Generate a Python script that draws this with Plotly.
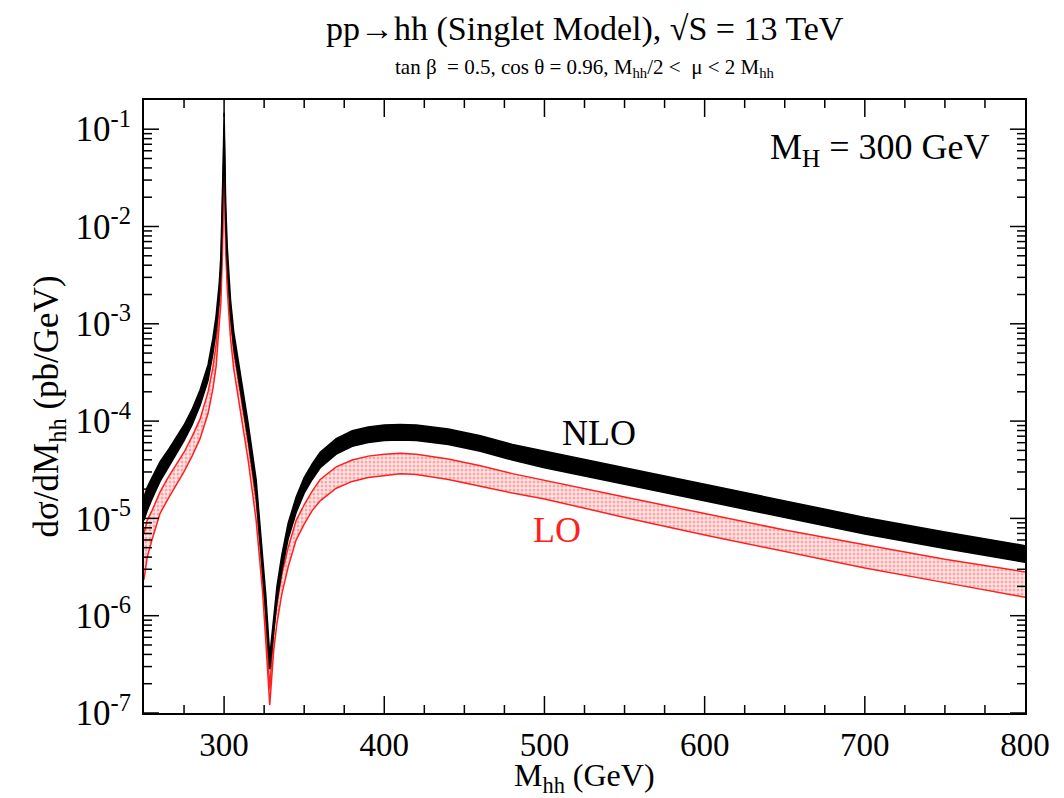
import math
import plotly.graph_objects as go

# M_hh values (GeV)
m_hh = [250, 252, 255, 260, 265, 270, 275, 280, 285, 290, 293, 295, 297, 298, 299, 299.5,
        300, 300.5, 301, 302, 304, 306, 310, 315, 320, 324, 326, 328.5, 331, 333, 336, 340,
        345, 350, 355, 360, 370, 380, 390, 400, 410, 420, 440, 460, 480, 500, 550, 600,
        650, 700, 750, 800]

# log10 of dsigma/dM (pb/GeV), band edges
nlo_hi_log = [-4.78, -4.68, -4.58, -4.42, -4.30, -4.17, -4.04, -3.88, -3.68, -3.42, -3.15, -2.92,
              -2.58, -2.30, -1.78, -1.30, -0.83, -1.30, -1.78, -2.22, -2.75, -3.08, -3.50, -4.02,
              -4.60, -5.35, -5.78, -6.42, -5.98, -5.70, -5.38, -5.05, -4.78, -4.58, -4.44, -4.32,
              -4.18, -4.10, -4.06, -4.04, -4.035, -4.04, -4.08, -4.15, -4.24, -4.31, -4.48, -4.65,
              -4.82, -4.99, -5.14, -5.28]
nlo_lo_log = [-5.02, -4.92, -4.80, -4.62, -4.48, -4.34, -4.20, -4.04, -3.84, -3.58, -3.31, -3.08,
              -2.74, -2.46, -1.94, -1.45, -0.98, -1.45, -1.94, -2.38, -2.91, -3.24, -3.66, -4.18,
              -4.76, -5.51, -5.95, -6.55, -6.12, -5.85, -5.54, -5.21, -4.94, -4.74, -4.60, -4.48,
              -4.34, -4.26, -4.22, -4.20, -4.195, -4.20, -4.24, -4.31, -4.40, -4.48, -4.65, -4.82,
              -4.99, -5.16, -5.31, -5.45]
lo_hi_log = [-5.15, -5.02, -4.92, -4.73, -4.58, -4.45, -4.32, -4.16, -3.98, -3.70, -3.45, -3.22,
             -2.85, -2.58, -2.05, -1.60, -1.15, -1.60, -2.05, -2.45, -2.95, -3.28, -3.70, -4.22,
             -4.82, -5.55, -6.05, -6.75, -6.15, -5.88, -5.58, -5.30, -5.02, -4.86, -4.72, -4.60,
             -4.47, -4.40, -4.36, -4.34, -4.33, -4.34, -4.39, -4.46, -4.54, -4.61, -4.78, -4.95,
             -5.12, -5.27, -5.42, -5.55]
lo_lo_log = [-5.63, -5.40, -5.22, -4.95, -4.80, -4.66, -4.52, -4.36, -4.18, -3.92, -3.67, -3.44,
             -3.05, -2.78, -2.25, -1.78, -1.30, -1.78, -2.25, -2.65, -3.15, -3.46, -3.88, -4.40,
             -5.02, -5.75, -6.25, -6.92, -6.35, -6.08, -5.78, -5.50, -5.22, -5.06, -4.92, -4.82,
             -4.69, -4.62, -4.58, -4.56, -4.54, -4.55, -4.60, -4.67, -4.74, -4.80, -4.99, -5.17,
             -5.34, -5.51, -5.66, -5.81]

y_tick_exps = [-7, -6, -5, -4, -3, -2, -1]
x_tick_vals = [300, 400, 500, 600, 700, 800]
x_range = [250, 800]
y_range_log = [-7, -0.70]

nlo_hi = [10 ** v for v in nlo_hi_log]
nlo_lo = [10 ** v for v in nlo_lo_log]
lo_hi = [10 ** v for v in lo_hi_log]
lo_lo = [10 ** v for v in lo_lo_log]

FONT = "Liberation Serif"
RED = "#ff2020"
PLOT_W = 1064 - 144 - 39
PLOT_H = 798 - 100 - 85

fig = go.Figure()
# LO band (red, dotted fill)
fig.add_trace(go.Scatter(x=m_hh, y=lo_lo, mode="lines", line=dict(color=RED, width=1.5),
                         showlegend=False, hoverinfo="skip"))
fig.add_trace(go.Scatter(x=m_hh, y=lo_hi, mode="lines", line=dict(color=RED, width=1.5),
                         fill="tonexty",
                         fillpattern=dict(shape=".", fgcolor="#ff6060", bgcolor="#ffe8e8",
                                          size=4, solidity=0.45),
                         showlegend=False, hoverinfo="skip"))
# NLO band (black)
fig.add_trace(go.Scatter(x=m_hh, y=nlo_lo, mode="lines", line=dict(color="black", width=1.5),
                         showlegend=False, hoverinfo="skip"))
fig.add_trace(go.Scatter(x=m_hh, y=nlo_hi, mode="lines", line=dict(color="black", width=1.5),
                         fill="tonexty", fillcolor="black",
                         showlegend=False, hoverinfo="skip"))

fig.update_layout(
    width=1064, height=798,
    margin=dict(l=144, r=39, t=100, b=85),
    paper_bgcolor="white", plot_bgcolor="white",
    font=dict(family=FONT, color="black"),
    showlegend=False,
)

fig.update_xaxes(
    range=x_range, showgrid=False, zeroline=False,
    showline=True, linecolor="black", linewidth=2, mirror=True,
    ticks="", tickvals=x_tick_vals, ticktext=[str(v) for v in x_tick_vals],
    ticklabelstandoff=1,
    tickfont=dict(family=FONT, size=33),
)
fig.update_yaxes(
    type="log", range=y_range_log, showgrid=False, zeroline=False,
    showline=True, linecolor="black", linewidth=2, mirror=True,
    ticks="", tickvals=[10 ** e for e in y_tick_exps],
    ticktext=["10<sup>%d</sup>" % e for e in y_tick_exps],
    ticklabelstandoff=4,
    tickfont=dict(family=FONT, size=35),
    title=dict(text="dσ/dM<sub>hh</sub> (pb/GeV)", font=dict(family=FONT, size=35), standoff=6),
)

# tick marks (inside, on all four sides), placed in paper fractions
shapes = []
TICK = dict(color="black", width=1.5)


def x_tick(xv, length):
    px = (xv - x_range[0]) / (x_range[1] - x_range[0])
    frac = length / PLOT_H
    for y0, y1 in ((0, frac), (1, 1 - frac)):
        shapes.append(dict(type="line", xref="paper", yref="paper", x0=px, x1=px, y0=y0, y1=y1,
                           line=TICK))


def y_tick(lv, length):
    py = (lv - y_range_log[0]) / (y_range_log[1] - y_range_log[0])
    frac = length / PLOT_W
    for x0, x1 in ((0, frac), (1, 1 - frac)):
        shapes.append(dict(type="line", xref="paper", yref="paper", x0=x0, x1=x1, y0=py, y1=py,
                           line=TICK))


for xv in range(275, 800, 25):
    x_tick(xv, 17 if xv in x_tick_vals else 8)
for e in y_tick_exps:
    y_tick(e, 15)
    for k in range(2, 10):
        lv = e + math.log10(k)
        if lv < y_range_log[1]:
            y_tick(lv, 8)
fig.update_layout(shapes=shapes)

fig.add_annotation(text="M<sub>hh</sub> (GeV)", xref="paper", yref="paper", x=0.5, y=0,
                   xanchor="center", yanchor="top", yshift=-42, showarrow=False,
                   font=dict(family=FONT, size=32))
fig.add_annotation(text="pp→hh (Singlet Model), √S = 13 TeV", xref="paper", yref="paper",
                   x=0.5, y=1, xanchor="center", yanchor="middle", yshift=71, showarrow=False,
                   font=dict(family=FONT, size=34))
fig.add_annotation(text="tan β  = 0.5, cos θ = 0.96, M<sub>hh</sub>/2 &lt;  μ &lt; 2 M<sub>hh</sub>",
                   xref="paper", yref="paper", x=0.5, y=1, xanchor="center", yanchor="middle",
                   yshift=32, showarrow=False, font=dict(family=FONT, size=21))
fig.add_annotation(text="M<sub>H</sub> = 300 GeV", xref="paper", yref="paper", x=0.835, y=0.92,
                   xanchor="center", yanchor="middle", showarrow=False,
                   font=dict(family=FONT, size=36))
fig.add_annotation(text="NLO", x=534, y=-4.12, xanchor="center", yanchor="middle", showarrow=False,
                   font=dict(family=FONT, size=36, color="black"))
fig.add_annotation(text="LO", x=508, y=-5.12, xanchor="center", yanchor="middle", showarrow=False,
                   font=dict(family=FONT, size=36, color=RED))

fig.write_html("out.html")
